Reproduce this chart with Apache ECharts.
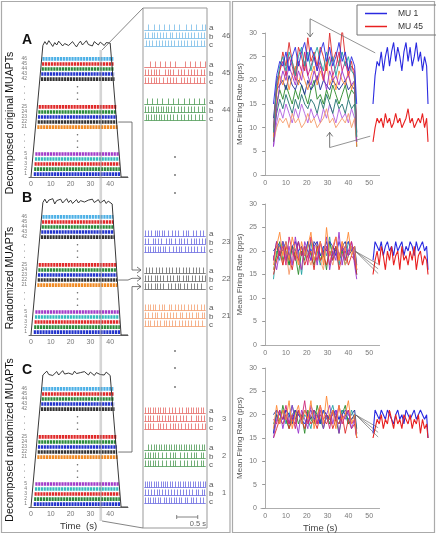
<!DOCTYPE html>
<html><head><meta charset="utf-8">
<script src="https://cdn.jsdelivr.net/npm/echarts@6/dist/echarts.min.js"></script>
<style>html,body{margin:0;padding:0;background:#fff}#c{width:436px;height:535px}</style>
</head><body><div id="c"></div>
<script>
// ---------------- DATA ----------------
// raster rows (bottom to top) and their recruitment / derecruitment times (s)
const rasterUnits   = [1,2,3,4,5,21,22,23,24,25,42,43,44,45,46];
const recruitTime   = [1.4,1.6,1.8,2.0,2.2,3.2,3.4,3.5,3.7,3.9,5.0,5.2,5.4,5.6,5.8];
const derecruitTime = [45.1,44.9,44.8,44.6,44.5,43.7,43.5,43.4,43.2,43.1,42.2,42.0,41.9,41.7,41.6];
const xTicksLeft    = [0,10,20,30,40];

// force traces (arbitrary units) for panels A, B, C
const forceTime = [0,1,6,7,8,9,10,11,12,13,14,15,16,17,18,19,20,21,22,23,24,25,26,27,28,29,30,31,32,33,34,35,36,37,38,39,40,41,45.5,49];
const forceA = [0,0,27.4,28.2,27.6,28.4,27.8,27.2,28.0,27.5,28.3,27.9,27.3,27.8,28.1,27.4,27.7,28.2,27.6,27.1,27.8,28.3,27.5,27.9,28.4,27.6,28.0,27.3,28.2,27.8,27.5,28.1,27.7,27.4,28.0,27.6,27.9,27.5,0,0];
const forceB = [0,0,27.6,28.3,27.5,28.1,27.9,28.4,27.3,28.0,27.7,28.3,27.5,27.9,28.4,27.6,28.1,27.4,27.8,28.2,27.5,28.0,28.4,27.7,27.4,28.1,27.8,28.3,27.6,27.9,28.2,27.5,27.8,28.1,27.4,27.9,27.6,27.3,0,0];
const forceC = [0,0,27.5,27.9,28.3,27.6,28.0,27.4,27.8,28.2,27.5,27.9,28.4,27.7,27.3,27.9,28.1,27.6,28.3,27.8,27.4,28.0,27.6,28.2,27.9,27.5,28.1,27.7,27.4,28.0,28.3,27.6,27.9,27.5,28.1,27.7,27.4,27.8,0,0];

// zoomed spike trains (s) : rows a, b, c per motor unit
const spikeUnits = [46,45,44,23,22,21,3,2,1];
const spikes46 = [[0.13,0.25,0.37,0.49,0.61,0.73,0.85,1.03,1.15,1.27,1.39,1.48],
  [0.05,0.13,0.21,0.26,0.33,0.41,0.47,0.55,0.63,0.70,0.78,0.86,0.92,1.00,1.07,1.15,1.22,1.30,1.38,1.46],
  [0.06,0.14,0.22,0.30,0.37,0.44,0.52,0.59,0.66,0.74,0.82,0.90,0.97,1.05,1.13,1.21,1.29,1.37,1.45]];
const spikes45 = [[0.16,0.28,0.40,0.52,0.64,0.76,1.00,1.12,1.24,1.36,1.47],
  [0.05,0.12,0.20,0.27,0.31,0.38,0.52,0.59,0.64,0.71,0.84,0.91,0.98,1.06,1.14,1.21,1.29,1.37,1.45],
  [0.05,0.12,0.19,0.27,0.32,0.39,0.47,0.56,0.63,0.71,0.79,0.90,0.97,1.05,1.12,1.20,1.28,1.36,1.44]];
const spikes44 = [[0.10,0.21,0.33,0.44,0.60,0.71,0.82,0.97,1.09,1.20,1.32,1.46],
  [0.05,0.12,0.18,0.24,0.30,0.36,0.42,0.48,0.54,0.60,0.66,0.74,0.82,0.90,0.98,1.06,1.14,1.22,1.30,1.40,1.46],
  [0.06,0.13,0.19,0.25,0.31,0.37,0.43,0.50,0.57,0.64,0.72,0.80,0.90,0.98,1.06,1.14,1.23,1.32,1.41]];
const spikes23 = [[0.05,0.12,0.20,0.28,0.33,0.38,0.44,0.51,0.60,0.68,0.76,0.84,0.96,1.02,1.08,1.19,1.27,1.35,1.43],
  [0.05,0.12,0.23,0.29,0.36,0.43,0.55,0.61,0.67,0.75,0.85,0.91,0.97,1.05,1.13,1.21,1.27,1.34,1.41,1.47],
  [0.05,0.11,0.17,0.23,0.29,0.35,0.41,0.47,0.53,0.61,0.71,0.79,0.85,0.91,0.99,1.07,1.15,1.21,1.29,1.37,1.44]];
const spikes22 = [[0.06,0.14,0.22,0.30,0.38,0.46,0.54,0.62,0.70,0.78,0.86,0.94,1.02,1.10,1.18,1.26,1.34,1.42],
  [0.05,0.12,0.20,0.28,0.33,0.41,0.47,0.58,0.64,0.72,0.80,0.86,0.94,1.02,1.08,1.16,1.24,1.32,1.40,1.47],
  [0.05,0.12,0.20,0.28,0.33,0.41,0.47,0.59,0.67,0.75,0.83,0.89,0.97,1.05,1.13,1.21,1.29,1.37]];
const spikes21 = [[0.05,0.11,0.17,0.23,0.29,0.37,0.45,0.51,0.61,0.67,0.75,0.83,0.91,0.97,1.07,1.13,1.21,1.29,1.37,1.45],
  [0.05,0.13,0.21,0.29,0.34,0.42,0.50,0.57,0.63,0.71,0.79,0.87,0.93,1.01,1.09,1.17,1.25,1.31,1.39,1.46],
  [0.05,0.11,0.17,0.25,0.33,0.41,0.49,0.55,0.61,0.69,0.77,0.85,0.93,0.99,1.07,1.15,1.23,1.31,1.39]];
const spikes3 = [[0.05,0.11,0.17,0.23,0.29,0.35,0.41,0.47,0.53,0.61,0.69,0.77,0.85,0.93,1.01,1.07,1.13,1.19,1.25,1.31,1.37,1.43],
  [0.05,0.11,0.17,0.23,0.33,0.39,0.45,0.53,0.59,0.65,0.71,0.79,0.87,0.95,1.01,1.13,1.25,1.31,1.37,1.45],
  [0.05,0.11,0.17,0.23,0.35,0.41,0.47,0.55,0.63,0.71,0.77,0.83,0.91,0.99,1.07,1.15,1.23,1.31,1.39,1.47]];
const spikes2 = [[0.13,0.19,0.25,0.31,0.37,0.43,0.49,0.55,0.61,0.67,0.73,0.79,0.85,0.91,0.97,1.03,1.09,1.15,1.21,1.27,1.33,1.39,1.45],
  [0.05,0.11,0.17,0.23,0.29,0.35,0.45,0.55,0.65,0.71,0.77,0.89,0.97,1.05,1.13,1.21,1.27,1.37,1.43],
  [0.05,0.11,0.17,0.23,0.29,0.35,0.45,0.55,0.65,0.71,0.77,0.89,0.97,1.05,1.13,1.21,1.29,1.37,1.43]];
const spikes1 = [[0.05,0.10,0.15,0.20,0.25,0.30,0.36,0.42,0.48,0.53,0.58,0.64,0.70,0.76,0.82,0.88,0.94,1.00,1.06,1.12,1.18,1.24,1.30,1.36,1.42,1.47],
  [0.05,0.11,0.19,0.25,0.33,0.39,0.45,0.53,0.59,0.67,0.73,0.81,0.87,0.95,1.01,1.09,1.17,1.25,1.31,1.39,1.45],
  [0.05,0.11,0.17,0.23,0.29,0.35,0.41,0.49,0.55,0.61,0.67,0.73,0.79,0.85,0.91,0.99,1.05,1.13,1.19,1.27,1.35,1.43]];
const spikeSets = [spikes46,spikes45,spikes44,spikes23,spikes22,spikes21,spikes3,spikes2,spikes1];
const rowNames = ['a','b','c'];

// mean firing rates (pps)
const frTime = [4,5.5,7,8.5,10,11.5,13,14.5,16,17.5,19,20.5,22,23.5,25,26.5,28,29.5,31,32.5,34,35.5,37,38.5,40,41.5,43,44];
const yTicksRight = [0,5,10,15,20,25,30];
const xTicksRight = [0,10,20,30,40,50];
// top: decomposed original
const fr1MU1     = [15,21,24,23,26,22,25,27,23,26,28,24,27,25,22,26,28,24,27,23,25,28,24,26,22,25,23,15];
const fr1MU45    = [7,10,12,11,12,10,13,11,12,10,11,13,11,12,10,11,12,14,11,12,10,11,12,11,13,10,12,7];
const fr1Teal    = [9,19,23,25,22,26,24,21,25,27,23,26,22,25,27,24,22,26,23,25,21,24,26,23,25,22,21,8];
const fr1Purple  = [6,14,19,22,20,23,21,19,22,20,24,21,19,22,20,23,21,18,22,20,21,19,22,20,21,19,20,7];
const fr1Magenta = [10,20,22,24,21,25,23,20,24,22,26,21,23,25,22,24,20,23,25,21,23,26,22,24,21,23,22,9];
const fr1Orange  = [8,17,21,19,22,18,21,23,19,22,20,18,21,23,19,22,20,24,19,21,18,22,20,19,22,18,20,6];
const fr1Green   = [7,15,18,16,19,17,15,18,16,19,17,15,18,20,16,17,15,18,16,19,17,15,17,19,16,18,17,6];
const fr1Navy    = [12,18,19,20,18,21,19,18,20,19,17,20,18,19,21,18,20,19,18,20,19,18,19,20,18,19,18,9];
const fr1DkTeal  = [8,13,16,14,17,15,13,16,14,17,15,14,16,15,13,16,14,17,15,13,16,14,15,13,16,14,15,7];
const fr1Violet  = [6,11,14,12,15,13,11,14,12,15,13,11,14,12,13,11,14,12,15,13,11,14,12,13,11,14,12,6];
const fr1Red     = [9,18,22,26,23,28,24,21,27,25,22,29,24,26,23,27,25,22,30,24,26,23,31,25,22,24,20,8];
// middle: randomized
const fr2MU1     = [18,22,21,20,22,19,21,22,20,21,19,22,20,21,22,19,21,20,22,21,19,22,20,21,22,20,21,16];
const fr2MU45    = [15,18,20,17,21,19,16,20,18,21,17,19,20,16,21,18,19,17,20,18,21,16,19,20,17,19,18,15];
const fr2Orange  = [17,21,24,19,22,18,23,20,17,22,19,21,24,18,20,22,17,25,19,21,23,18,22,20,24,19,21,16];
const fr2Purple  = [19,16,20,22,18,21,17,23,19,16,22,20,18,21,17,22,19,23,16,20,18,24,17,21,19,22,17,14];
const fr2Teal    = [14,20,18,22,19,17,21,18,20,15,21,19,22,18,20,17,21,19,23,18,20,17,21,18,22,20,19,15];
const fr2Green   = [16,19,22,18,20,17,21,19,15,20,18,22,19,17,21,18,20,16,22,19,21,18,20,17,19,21,18,15];
const fr2Magenta = [18,22,19,21,17,23,20,18,22,19,21,17,23,20,18,22,19,21,17,20,23,19,21,18,20,22,19,16];
const fr2Navy    = [20,21,19,22,20,18,21,20,22,19,21,20,18,22,21,19,20,22,19,21,20,18,21,22,19,20,21,17];
const fr2Salmon  = [16,18,21,17,20,15,19,22,18,16,21,19,17,20,22,18,16,21,19,17,20,18,22,17,19,21,18,16];
// bottom: decomposed randomized
const fr3MU1     = [16,21,20,19,21,20,19,21,20,19,18,20,21,19,20,18,21,20,19,20,21,19,20,21,20,19,20,15];
const fr3MU45    = [15,17,19,18,20,17,19,18,21,19,17,20,18,19,17,20,19,18,20,17,19,18,20,16,19,17,18,15];
const fr3Orange  = [17,22,18,21,19,23,17,20,22,18,21,19,23,17,20,22,18,24,19,21,17,22,19,20,23,18,20,15];
const fr3Purple  = [15,19,21,17,20,18,22,19,16,21,19,17,22,20,18,21,17,20,22,18,21,16,20,19,21,17,19,15];
const fr3Teal    = [18,20,19,21,18,20,22,19,21,18,20,19,17,21,20,18,21,19,20,22,19,18,21,20,18,21,19,16];
const fr3Green   = [16,20,18,22,19,17,20,21,18,20,16,21,19,18,22,19,17,20,18,21,19,16,20,22,18,19,20,16];
const fr3Magenta = [19,18,21,19,22,18,20,17,21,19,23,18,20,21,18,22,19,20,17,21,19,22,18,20,21,18,19,15];
const fr3Navy    = [20,21,20,19,21,20,18,21,20,19,21,20,19,21,20,18,21,20,19,21,20,19,21,20,19,20,21,17];

// ---------------- STYLE / LAYOUT ----------------
const FONT = '"Liberation Sans", Arial, sans-serif';
const rasterColor = {1:'#2233cc',2:'#2a8a3a',3:'#e02a2a',4:'#33bcbc',5:'#a23cc8',
  21:'#f08a24',22:'#333333',23:'#2233cc',24:'#2a8a3a',25:'#e02a2a',
  42:'#333333',43:'#2233cc',44:'#2a8a3a',45:'#e02a2a',46:'#4cb0e6'};
const spikeColor = {46:'#78bde8',45:'#e66a66',44:'#4e9a56',23:'#6a6ae0',22:'#666666',21:'#f4a070',3:'#e66a66',2:'#4e9a56',1:'#6a6ae0'};
function rowPos(i){ const g=Math.floor(i/5), k=i%5; return [0.6,10.4,20.4][g] + 1.05*k; }
const rasterDotRows = [6.2,7.5,8.8,16.2,17.5,18.8];
function labelV(u,j){ const s=Math.floor(u/3), k=u%3; return [19,225,402][s] + 37*k + 8.3*j; }

const grids = [
  {left:29, top:33, width:99, height:144},
  {left:29, top:191, width:99, height:144},
  {left:29, top:363, width:99, height:144},
  {left:143, top:8, width:64, height:520, show:true, borderColor:'#999', borderWidth:1, backgroundColor:'transparent'},
  {left:261, top:33, width:118.6, height:142},
  {left:261, top:204, width:118.6, height:141},
  {left:261, top:368, width:118.6, height:140},
  {left:373, top:33, width:55, height:142},
  {left:373, top:204, width:55, height:141},
  {left:373, top:368, width:55, height:140}
];
const xAxis = [], yAxis = [];
for (let p=0;p<3;p++){
  xAxis.push({gridIndex:p, type:'value', min:-1, max:49,
    axisLine:{lineStyle:{color:'#444', width:0.8}}, axisTick:{show:false}, splitLine:{show:false},
    axisLabel:{customValues:xTicksLeft, fontSize:7, color:'#777', margin:4, fontFamily:FONT},
    name: p===2 ? 'Time  (s)' : '', nameLocation:'middle', nameGap:14,
    nameTextStyle:{fontSize:9.5, color:'#333', fontFamily:FONT}});
  yAxis.push({gridIndex:p, type:'value', min:0, max:30, show:false});
}
xAxis.push({gridIndex:3, type:'value', min:0, max:1.52, show:false});
yAxis.push({gridIndex:3, type:'value', min:0, max:520, inverse:true, show:false});
for (let p=4;p<7;p++){
  xAxis.push({gridIndex:p, type:'value', min:-2, max:55,
    axisLine:{lineStyle:{color:'#999', width:0.8}}, axisTick:{show:false}, splitLine:{show:false},
    axisLabel:{customValues:xTicksRight, fontSize:7, color:'#777', margin:5, fontFamily:FONT},
    name: p===6 ? 'Time (s)' : '', nameLocation:'middle', nameGap:15,
    nameTextStyle:{fontSize:9.5, color:'#444', fontFamily:FONT}});
  yAxis.push({gridIndex:p, type:'value', min:0, max:30, interval:5,
    axisLine:{show:true, lineStyle:{color:'#999', width:0.8}},
    axisTick:{show:true, length:3, lineStyle:{color:'#999'}}, splitLine:{show:false},
    axisLabel:{fontSize:7, color:'#777', margin:4, fontFamily:FONT, customValues:yTicksRight},
    name:'Mean Firing Rate (pps)', nameLocation:'middle', nameGap:17,
    nameTextStyle:{fontSize:8, color:'#555', fontFamily:FONT}});
}
for (let p=7;p<10;p++){
  xAxis.push({gridIndex:p, type:'value', min:4, max:44, show:false});
  yAxis.push({gridIndex:p, type:'value', min:0, max:30, show:false});
}

const series = [];
const forces = [forceA, forceB, forceC];
for (let p=0;p<3;p++){
  rasterUnits.forEach((u,i)=>{
    series.push({type:'line', xAxisIndex:p, yAxisIndex:p, symbol:'none', silent:true, z:2,
      data:[[recruitTime[i], rowPos(i)],[derecruitTime[i], rowPos(i)]],
      lineStyle:{color:rasterColor[u], width:3.6, type:[2.2,0.7]}});
  });
  series.push({type:'line', xAxisIndex:p, yAxisIndex:p, symbol:'none', silent:true, z:3,
    data: forceTime.map((t,k)=>[t, forces[p][k]]), lineStyle:{color:'#222', width:0.9}});
  series.push({type:'scatter', xAxisIndex:p, yAxisIndex:p, symbolSize:1.6, silent:true,
    itemStyle:{color:'#444'}, data: rasterDotRows.map(r=>[23.5, r])});
}
function spikeRender(params, api){
  const kind = api.value(2);
  const p = api.coord([api.value(0), api.value(1)]);
  const c = api.visual('color');
  const y = Math.round(p[1]) + 0.5;
  if (kind === 1){
    const p2 = api.coord([api.value(3), api.value(1)]);
    return {type:'line', shape:{x1:p[0], y1:y, x2:p2[0], y2:y}, style:{stroke:c, lineWidth:0.8}};
  }
  const x = Math.round(p[0]) + 0.5;
  return {type:'line', shape:{x1:x, y1:y, x2:x, y2:y-6}, style:{stroke:c, lineWidth:0.8}};
}
spikeUnits.forEach((u,ui)=>{
  const data = [];
  spikeSets[ui].forEach((row,j)=>{
    const base = labelV(ui,j) + 2.5;
    data.push([0.03, base, 1, 1.49]);
    row.forEach(t=>data.push([t, base, 0, 0]));
  });
  series.push({type:'custom', xAxisIndex:3, yAxisIndex:3, silent:true, renderItem:spikeRender,
    encode:{x:0, y:1}, itemStyle:{color:spikeColor[u]}, data});
});
series.push({type:'scatter', xAxisIndex:3, yAxisIndex:3, symbolSize:1.8, silent:true, itemStyle:{color:'#444'},
  data:[[0.76,149],[0.76,167],[0.76,185],[0.76,343],[0.76,360],[0.76,379]]});

function fr(ax, arr, color, name, w){
  const s = {type:'line', xAxisIndex:ax, yAxisIndex:ax, symbol:'none', silent:true,
    data: frTime.map((t,k)=>[t, arr[k]]), itemStyle:{color}, lineStyle:{color, width:w||0.9}};
  if (name) s.name = name;
  series.push(s);
}
const C = {blue:'#2a2ae0', red:'#e82020', teal:'#1fa0a0', purple:'#9933cc', magenta:'#cc2277', orange:'#ff8833',
  green:'#2a8a2a', navy:'#1a2a99', dkteal:'#207070', violet:'#b060e0', salmon:'#f59a6a', red2:'#dd2a2a'};
// top
fr(4, fr1Violet, C.violet); fr(4, fr1DkTeal, C.dkteal); fr(4, fr1MU45, C.salmon); fr(4, fr1Green, C.green);
fr(4, fr1Navy, C.navy); fr(4, fr1Orange, C.orange); fr(4, fr1Purple, C.purple); fr(4, fr1Magenta, C.magenta);
fr(4, fr1Red, C.red2); fr(4, fr1Teal, C.teal); fr(4, fr1MU1, C.blue);
// middle
fr(5, fr2Navy, C.navy); fr(5, fr2Teal, C.teal); fr(5, fr2Green, C.green); fr(5, fr2Salmon, C.salmon);
fr(5, fr2MU45, C.red2); fr(5, fr2MU1, C.blue); fr(5, fr2Purple, C.purple); fr(5, fr2Magenta, C.magenta); fr(5, fr2Orange, C.orange);
// bottom
fr(6, fr3Navy, C.navy); fr(6, fr3Teal, C.teal); fr(6, fr3Green, C.green); fr(6, fr3MU45, C.red2);
fr(6, fr3MU1, C.blue); fr(6, fr3Purple, C.purple); fr(6, fr3Magenta, C.magenta); fr(6, fr3Orange, C.orange);
// insets
fr(7, fr1MU1, C.blue, 'MU 1', 1.1); fr(7, fr1MU45, C.red, 'MU 45', 1.1);
fr(8, fr2MU1, C.blue, 'MU 1', 1.1); fr(8, fr2MU45, C.red, 'MU 45', 1.1);
fr(9, fr3MU1, C.blue, 'MU 1', 1.1); fr(9, fr3MU45, C.red, 'MU 45', 1.1);

const chart = echarts.init(document.getElementById('c'), null, {renderer:'canvas'});
chart.setOption({
  animation:false, backgroundColor:'#fff', textStyle:{fontFamily:FONT},
  grid:grids, xAxis, yAxis, series,
  legend:{data:['MU 1','MU 45'], left:357, top:5, orient:'vertical', icon:'rect', itemWidth:22, itemHeight:1.5,
    itemGap:4, padding:[4,16,4,8], borderColor:'#777', borderWidth:1, selectedMode:false,
    textStyle:{fontSize:8.5, color:'#333', fontFamily:FONT, padding:[0,0,0,6]}}
});

// ---------------- ANNOTATIONS ----------------
const px = (ai,x,y)=>chart.convertToPixel({xAxisIndex:ai, yAxisIndex:ai}, [x,y]);
const G = [];
const line = (x1,y1,x2,y2,stroke,w)=>G.push({type:'line', silent:true, z:50, shape:{x1,y1,x2,y2}, style:{stroke:stroke||'#555', lineWidth:w||0.8}});
const poly = (pts,stroke,w)=>G.push({type:'polyline', silent:true, z:50, shape:{points:pts}, style:{stroke:stroke||'#555', lineWidth:w||0.8, fill:null}});
const text = (x,y,t,st,extra)=>G.push(Object.assign({type:'text', silent:true, z:50, x, y,
  style:Object.assign({text:t, fontFamily:FONT, fontSize:8, fill:'#333', align:'left', verticalAlign:'middle'}, st)}, extra||{}));

G.push({type:'rect', silent:true, z:0, shape:{x:1.5,y:1.5,width:228.5,height:531}, style:{stroke:'#aaa', lineWidth:1.2, fill:null}});
G.push({type:'rect', silent:true, z:0, shape:{x:232.5,y:1.5,width:202,height:531}, style:{stroke:'#aaa', lineWidth:1.2, fill:null}});

const letters = ['A','B','C'], leftNames = ['Decomposed original MUAPTs','Randomized MUAPTs','Decomposed randomized MUAPTs'];
const nameCenters = [123, 278, 440];
for (let p=0;p<3;p++){
  const top = px(p, 0, 28.6);
  text(22, top[1], letters[p], {fontSize:14, fontWeight:'bold', fill:'#111'});
  text(10, nameCenters[p], leftNames[p], {fontSize:10.5, fill:'#111', align:'center'}, {rotation:Math.PI/2});
  rasterUnits.forEach((u,i)=>{
    const q = px(p, 0, rowPos(i));
    text(27, q[1], String(u), {fontSize:5, fill:'#777', align:'right'});
  });
  rasterDotRows.forEach(r=>{
    const q = px(p, 0, r);
    G.push({type:'circle', silent:true, z:50, shape:{cx:24.5, cy:q[1], r:0.5}, style:{fill:'#777'}});
  });
}
// shaded window and zoom lines
const b1 = px(0, 34.6, 0)[0], b2 = px(0, 35.9, 0)[0];
G.push({type:'rect', silent:true, z:40, shape:{x:b1, y:50, width:b2-b1, height:471}, style:{fill:'rgba(150,150,150,0.4)'}});
const mTop = px(3, 0, 0), mBot = px(3, 0, 520);
line(b2, 50, mTop[0], mTop[1], '#666', 0.8);
line(b2, 521, mBot[0], mBot[1], '#666', 0.8);
// arrows from MU 22 to zoomed rows
const i22 = rasterUnits.indexOf(22), u22 = spikeUnits.indexOf(22);
const arrowR = (x,y)=>poly([[x-4,y-3],[x,y],[x-4,y+3]], '#555', 0.8);
for (let p=0;p<3;p++){
  const s = px(p, derecruitTime[i22]+0.6, rowPos(i22));
  const ty = px(3, 0, labelV(u22,p))[1];
  if (p===1){ poly([[s[0],s[1]],[128,s[1]],[132,ty],[141,ty]], '#555', 0.8); }
  else { poly([[s[0],s[1]],[132,s[1]],[132,ty],[141,ty]], '#555', 0.8); }
  arrowR(141, ty);
}
// labels of zoomed rows
spikeUnits.forEach((u,ui)=>{
  for (let j=0;j<3;j++){
    const y = px(3, 0, labelV(ui,j))[1];
    text(209, y+1, rowNames[j], {fontSize:8, fill:'#555'});
    if (j===1) text(222, y+1, String(u), {fontSize:7.5, fill:'#666'});
  }
});
// scale bar 0.5 s
const sb1 = px(3, 0.80, 509), sb2 = px(3, 1.30, 509);
line(sb1[0], sb1[1], sb2[0], sb2[1], '#666', 0.8);
line(sb1[0], sb1[1]-2, sb1[0], sb1[1]+2, '#666', 0.8);
line(sb2[0], sb2[1]-2, sb2[0], sb2[1]+2, '#666', 0.8);
text(mBot[0]+63, sb1[1]+7, '0.5 s', {fontSize:7.5, fill:'#666', align:'right'});
// top firing-rate arrows
const dA = px(4, 21.6, 33), dB = px(4, 21.6, 29.2), dC = px(4, 52.9, 25.8);
line(dA[0], dA[1], dB[0], dB[1], '#555', 0.8);
poly([[dB[0]-3,dB[1]-4],[dB[0],dB[1]],[dB[0]+3,dB[1]-4]], '#555', 0.8);
line(dA[0], dA[1], dC[0], dC[1], '#666', 0.7);
const uA = px(4, 31, 5.8), uB = px(4, 31, 9.0), uC = px(4, 50.5, 8.2);
line(uA[0], uA[1], uB[0], uB[1], '#555', 0.8);
poly([[uB[0]-3,uB[1]+4],[uB[0],uB[1]],[uB[0]+3,uB[1]+4]], '#555', 0.8);
line(uA[0], uA[1], uC[0], uC[1], '#666', 0.7);
// connectors to insets (middle and bottom)
[[5,[43.5,19.9]],[6,[43.7,19.9]]].forEach(([ax,tip])=>{
  const t = px(ax, tip[0], tip[1]);
  [17.2,16.2,15.2].forEach(v=>{ const e = px(ax, 54.3, v); line(t[0], t[1], e[0], e[1], '#555', 0.6); });
});
chart.setOption({graphic:G});
</script></body></html>
